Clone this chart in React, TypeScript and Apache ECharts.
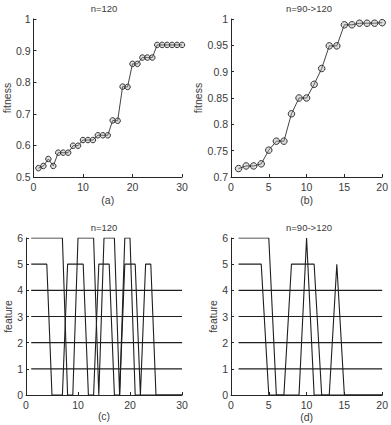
import React, { useEffect, useRef } from "react";
import * as echarts from "echarts";

// Best fitness per iteration, run with n=120
const fitnessA = [
  0.528, 0.535, 0.557, 0.535, 0.577, 0.577, 0.577, 0.599, 0.599, 0.617,
  0.617, 0.617, 0.632, 0.632, 0.632, 0.679, 0.678, 0.786, 0.785, 0.858,
  0.858, 0.878, 0.878, 0.878, 0.918, 0.918, 0.918, 0.918, 0.918, 0.918,
];

// Best fitness per iteration, run with n=90->120
const fitnessB = [
  0.716, 0.721, 0.721, 0.725, 0.751, 0.768, 0.768, 0.82, 0.85, 0.85,
  0.876, 0.906, 0.949, 0.949, 0.989, 0.989, 0.992, 0.992, 0.992, 0.993,
];

// Selection flags of features 1..6 per iteration (n=120)
const selectedC = [
  [1, 1, 1, 1, 1, 1, 1, 1, 1, 1, 1, 1, 1, 1, 1, 1, 1, 1, 1, 1, 1, 1, 1, 1, 1, 1, 1, 1, 1, 1],
  [1, 1, 1, 1, 1, 1, 1, 1, 1, 1, 1, 1, 1, 1, 1, 1, 1, 1, 1, 1, 1, 1, 1, 1, 1, 1, 1, 1, 1, 1],
  [1, 1, 1, 1, 1, 1, 1, 1, 1, 1, 1, 1, 1, 1, 1, 1, 1, 1, 1, 1, 1, 1, 1, 1, 1, 1, 1, 1, 1, 1],
  [1, 1, 1, 1, 1, 1, 1, 1, 1, 1, 1, 1, 1, 1, 1, 1, 1, 1, 1, 1, 1, 1, 1, 1, 1, 1, 1, 1, 1, 1],
  [1, 1, 1, 1, 0, 0, 0, 1, 1, 1, 1, 0, 0, 1, 1, 1, 0, 0, 1, 1, 1, 0, 1, 1, 0, 0, 0, 0, 0, 0],
  [1, 1, 1, 1, 1, 1, 1, 0, 0, 1, 1, 1, 1, 0, 1, 1, 1, 0, 1, 1, 0, 0, 0, 0, 0, 0, 0, 0, 0, 0],
];

// Selection flags of features 1..6 per iteration (n=90->120)
const selectedD = [
  [1, 1, 1, 1, 1, 1, 1, 1, 1, 1, 1, 1, 1, 1, 1, 1, 1, 1, 1, 1],
  [1, 1, 1, 1, 1, 1, 1, 1, 1, 1, 1, 1, 1, 1, 1, 1, 1, 1, 1, 1],
  [1, 1, 1, 1, 1, 1, 1, 1, 1, 1, 1, 1, 1, 1, 1, 1, 1, 1, 1, 1],
  [1, 1, 1, 1, 1, 1, 1, 1, 1, 1, 1, 1, 1, 1, 1, 1, 1, 1, 1, 1],
  [1, 1, 1, 1, 0, 0, 0, 1, 1, 1, 1, 0, 0, 1, 0, 0, 0, 0, 0, 0],
  [1, 1, 1, 1, 1, 0, 0, 0, 0, 1, 0, 0, 0, 0, 0, 0, 0, 0, 0, 0],
];

const panelTitles = ["n=120", "n=90->120", "n=120", "n=90->120"];
const panelLabels = ["(a)", "(b)", "(c)", "(d)"];

const FONT = "Liberation Sans, Arial, sans-serif";
const TEXT = "#3a3a3a";
const INK = "#262626";

const grids = [
  { left: 26, top: 19, width: 156, height: 158 },
  { left: 231, top: 19, width: 156, height: 158 },
  { left: 26, top: 238, width: 156, height: 157 },
  { left: 231, top: 238, width: 156, height: 157 },
];

const fmt = (v: number) => String(+v.toFixed(2));

function makeXAxis(gridIndex: number, max: number, interval: number, name: string, gap: number) {
  return {
    type: "value",
    gridIndex,
    min: 0,
    max,
    interval,
    name,
    nameLocation: "middle",
    nameGap: gap,
    nameTextStyle: { fontFamily: FONT, fontSize: 10.5, color: TEXT },
    axisLine: { show: true, onZero: false, lineStyle: { color: INK, width: 1 } },
    axisTick: { show: true, inside: true, length: 3, lineStyle: { color: INK } },
    axisLabel: { fontFamily: FONT, fontSize: 10.5, color: TEXT, margin: 4, formatter: fmt },
    splitLine: { show: false },
  };
}

function makeYAxis(
  gridIndex: number,
  min: number,
  max: number,
  interval: number,
  name: string,
  gap: number
) {
  return {
    type: "value",
    gridIndex,
    min,
    max,
    interval,
    name,
    nameLocation: "middle",
    nameGap: gap,
    nameTextStyle: { fontFamily: FONT, fontSize: 10.5, color: TEXT },
    axisLine: { show: true, onZero: false, lineStyle: { color: INK, width: 1 } },
    axisTick: { show: true, inside: true, length: 3, lineStyle: { color: INK } },
    axisLabel: { fontFamily: FONT, fontSize: 10.5, color: TEXT, margin: 3, formatter: fmt },
    splitLine: { show: false },
  };
}

function fitnessSeries(values: number[], axisIndex: number, size: number) {
  return {
    type: "line",
    xAxisIndex: axisIndex,
    yAxisIndex: axisIndex,
    data: values.map((v, i) => [i + 1, v]),
    symbol: "circle",
    symbolSize: size,
    showSymbol: true,
    lineStyle: { color: "#444", width: 1 },
    itemStyle: { color: "rgba(160,160,160,0.35)", borderColor: "#333", borderWidth: 1 },
    z: 3,
  };
}

function featureSeries(flags: number[][], axisIndex: number) {
  return flags.map((row, k) => ({
    type: "line",
    xAxisIndex: axisIndex,
    yAxisIndex: axisIndex,
    data: row.map((on, i) => [i + 1, on * (k + 1)]),
    showSymbol: false,
    symbol: "none",
    lineStyle: { color: "#1e1e1e", width: 1.1 },
    z: 3,
  }));
}

export default function App() {
  const ref = useRef<HTMLDivElement>(null);

  useEffect(() => {
    if (!ref.current) return;
    const chart = echarts.init(ref.current, undefined, { renderer: "svg" });

    const titleGraphics = grids.map((g, i) => ({
      type: "text",
      x: g.left + g.width / 2,
      y: g.top - 11,
      style: {
        text: panelTitles[i],
        align: "center",
        verticalAlign: "middle",
        textAlign: "center",
        textVerticalAlign: "middle",
        fontFamily: FONT,
        fontSize: 9.5,
        fill: TEXT,
      },
    }));

    chart.setOption({
      animation: false,
      backgroundColor: "#ffffff",
      grid: grids.map((g) => ({ ...g, containLabel: false })),
      xAxis: [
        makeXAxis(0, 30, 10, panelLabels[0], 17),
        makeXAxis(1, 20, 5, panelLabels[1], 17),
        makeXAxis(2, 30, 10, panelLabels[2], 14),
        makeXAxis(3, 20, 5, panelLabels[3], 16),
      ],
      yAxis: [
        makeYAxis(0, 0.5, 1, 0.1, "fitness", 20),
        makeYAxis(1, 0.7, 1, 0.05, "fitness", 24),
        makeYAxis(2, 0, 6, 1, "feature", 12),
        makeYAxis(3, 0, 6, 1, "feature", 12),
      ],
      series: [
        fitnessSeries(fitnessA, 0, 5.5),
        fitnessSeries(fitnessB, 1, 6.5),
        ...featureSeries(selectedC, 2),
        ...featureSeries(selectedD, 3),
      ],
      graphic: titleGraphics,
    });

    return () => chart.dispose();
  }, []);

  return (
    <div
      ref={ref}
      style={{ position: "absolute", left: 0, top: 0, width: 391, height: 425 }}
    />
  );
}
